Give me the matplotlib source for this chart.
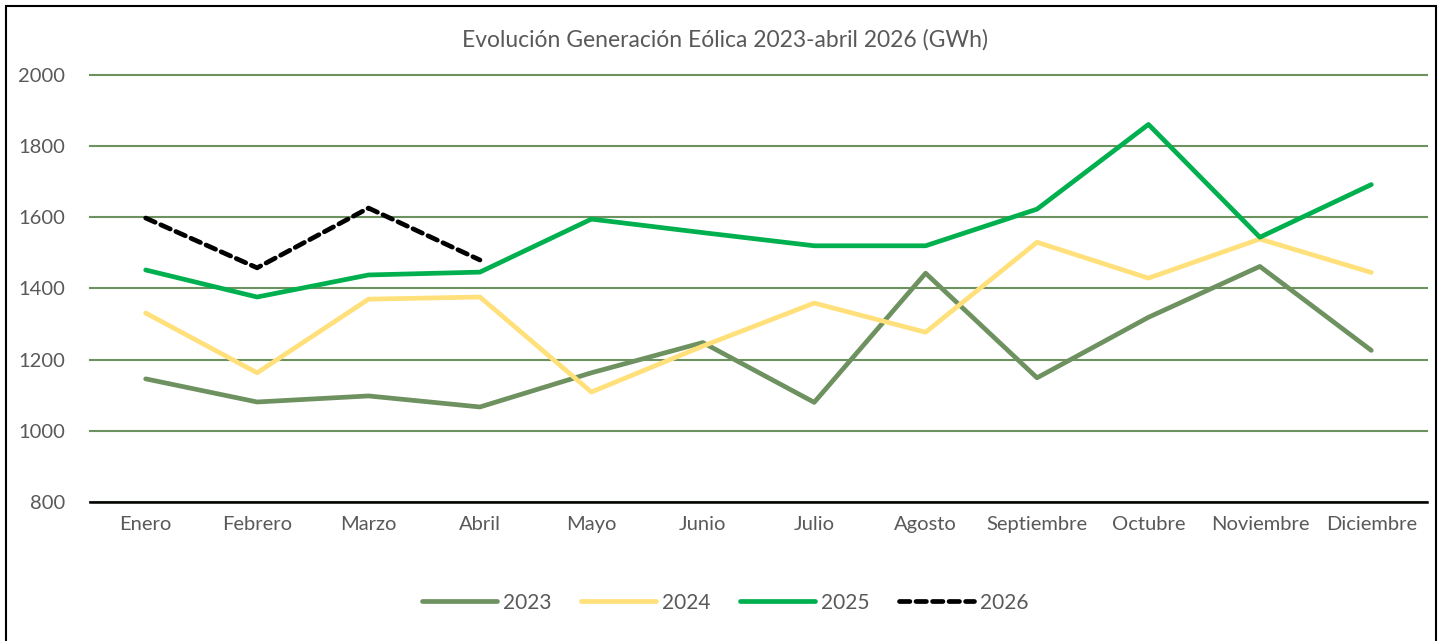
import numpy as np
import matplotlib
matplotlib.use('Agg')
import matplotlib.pyplot as plt
from matplotlib.patches import Rectangle

plt.rcParams['font.family'] = ['Lato', 'DejaVu Sans']

meses = ['Enero', 'Febrero', 'Marzo', 'Abril', 'Mayo', 'Junio', 'Julio',
         'Agosto', 'Septiembre', 'Octubre', 'Noviembre', 'Diciembre']

g2023 = [1146, 1081, 1098, 1067, 1163, 1248, 1080, 1443, 1149, 1319, 1462, 1226]
g2024 = [1331, 1163, 1370, 1376, 1109, 1238, 1359, 1277, 1530, 1429, 1539, 1445]
g2025 = [1452, 1376, 1438, 1446, 1595, 1557, 1520, 1520, 1623, 1861, 1544, 1692]
g2026 = [1598, 1458, 1626, 1480]

gris = '#595959'

fig = plt.figure(figsize=(14.42, 6.41), dpi=100)
ax = fig.add_axes([0.0624, 0.2169, 0.9272, 0.6661])

x = np.arange(len(meses))
ax.plot(x, g2023, color='#6E9160', lw=3.4, label='2023', solid_capstyle='round')
ax.plot(x, g2024, color='#FFE07A', lw=3.4, label='2024', solid_capstyle='round')
ax.plot(x, g2025, color='#00B04F', lw=3.4, label='2025', solid_capstyle='round')
ax.plot(x[:len(g2026)], g2026, color='black', lw=3.4, ls=(0, (2.2, 1.3)),
        label='2026', dash_capstyle='round')

ax.set_xlim(-0.5, 11.5)
ax.set_ylim(800, 2000)
ax.set_yticks(np.arange(800, 2001, 200))
ax.set_xticks(x)
ax.set_xticklabels(meses)
ax.tick_params(axis='both', length=0, labelsize=14.5, labelcolor=gris)
ax.tick_params(axis='x', pad=10)
ax.tick_params(axis='y', pad=18)
ax.grid(axis='y', color='#6E9160', lw=1.5)
for gl in ax.get_ygridlines():
    gl.set_clip_on(False)
ax.set_axisbelow(True)
for s in ['top', 'right', 'left']:
    ax.spines[s].set_visible(False)
ax.spines['bottom'].set_color('black')
ax.spines['bottom'].set_linewidth(1.8)
ax.spines['bottom'].set_zorder(3)

fig.text(0.503, 0.938, 'Evolución Generación Eólica 2023-abril 2026 (GWh)',
         ha='center', va='center', fontsize=16.5, color=gris)

fig.legend(loc='center', bbox_to_anchor=(0.503, 0.06), ncol=4, frameon=False,
           fontsize=15, labelcolor=gris, handlelength=3.6, handletextpad=0.3,
           columnspacing=1.4)

fig.add_artist(Rectangle((0.004, -0.01), 0.992, 1.0, transform=fig.transFigure,
                         fill=False, edgecolor='black', lw=1.5))

fig.savefig('out.png', dpi=100)
